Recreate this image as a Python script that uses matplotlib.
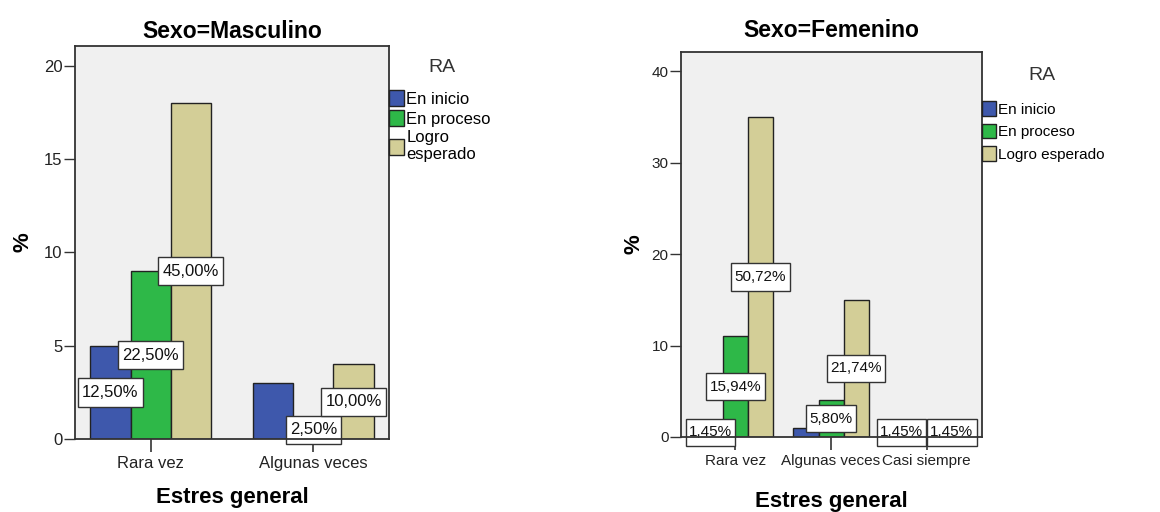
import matplotlib
matplotlib.use("Agg")
import matplotlib.pyplot as plt
from matplotlib.patches import Patch
import numpy as np

plt.rcParams['font.family'] = ['Liberation Sans', 'DejaVu Sans']

# ---- data ----
series_names = ["En inicio", "En proceso", "Logro esperado"]
colors = ["#3E58AC", "#2EB848", "#D3CE97"]

masc_categories = ["Rara vez", "Algunas veces"]
masc_en_inicio = [5, 3]
masc_en_proceso = [9, 1]
masc_logro = [18, 4]
masc_lbl_inicio = ["12,50%", None]
masc_lbl_proceso = ["22,50%", "2,50%"]
masc_lbl_logro = ["45,00%", "10,00%"]

fem_categories = ["Rara vez", "Algunas veces", "Casi siempre"]
fem_en_inicio = [1, 1, 1]
fem_en_proceso = [11, 4, 0]
fem_logro = [35, 15, 1]
fem_lbl_inicio = ["1,45%", None, "1,45%"]
fem_lbl_proceso = ["15,94%", "5,80%", None]
fem_lbl_logro = ["50,72%", "21,74%", "1,45%"]

masc_yticks = [0, 5, 10, 15, 20]
fem_yticks = [0, 10, 20, 30, 40]

fig = plt.figure(figsize=(11.6, 5.12), dpi=100)
W, H = 1160, 512

def px_axes(x0, y0, x1, y1):
    return fig.add_axes([x0 / W, 1 - y1 / H, (x1 - x0) / W, (y1 - y0) / H])

def draw(ax, cats, series, labels, ylim, xlim, yticks, title, fs, legend_labels, leg_y,
         leg_spacing, title_x, ra_y, title_pad, ylpad, xlpad, bw, box_pad, box_aspect):
    ax.set_facecolor("#F0F0F0")
    x = np.arange(len(cats))
    for i, (vals, lbls) in enumerate(zip(series, labels)):
        xs = x + (i - 1) * bw
        ax.bar(xs, vals, width=bw, color=colors[i], edgecolor="#222222", linewidth=1.0, zorder=2)
        for xi, v, lb in zip(xs, vals, lbls):
            if lb is None:
                continue
            ax.text(xi, v / 2, lb, ha="center", va="center", fontsize=fs, color="#111111",
                    zorder=2.3,
                    bbox=dict(boxstyle="square,pad=%g" % box_pad, facecolor="white",
                              edgecolor="#333333", linewidth=1.0, mutation_aspect=box_aspect))
    ax.set_xlim(*xlim)
    ax.set_ylim(*ylim)
    ax.set_yticks(yticks)
    ax.set_xticks(x)
    ax.set_xticklabels(cats)
    ax.tick_params(axis="y", direction="out", length=8, width=1, colors="#333333", labelsize=fs, pad=1)
    ax.tick_params(axis="x", direction="out", length=9, width=1.2, colors="#333333", labelsize=fs, pad=3)
    for lab in ax.get_xticklabels() + ax.get_yticklabels():
        lab.set_color("#222222")
    for s in ax.spines.values():
        s.set_color("#333333")
        s.set_linewidth(1.3)
    ax.set_title(title, fontsize=16.5, fontweight="bold", pad=title_pad)
    ax.set_ylabel("%", fontsize=16, fontweight="bold", labelpad=ylpad)
    ax.set_xlabel("Estres general", fontsize=16, fontweight="bold", labelpad=xlpad)
    handles = [Patch(facecolor=c, edgecolor="#222222", linewidth=1.0) for c in colors]
    ax.legend(handles, legend_labels, loc="upper left", bbox_to_anchor=(1.0, leg_y), frameon=False,
              fontsize=fs, handlelength=0.9, handleheight=1.1, handletextpad=0.15,
              labelspacing=leg_spacing, borderpad=0, borderaxespad=0)
    ax.text(title_x, ra_y, "RA", transform=ax.transAxes, fontsize=14, color="#333333",
            ha="center", va="center")

ax1 = px_axes(75, 46, 389, 439)
draw(ax1, masc_categories, [masc_en_inicio, masc_en_proceso, masc_logro],
     [masc_lbl_inicio, masc_lbl_proceso, masc_lbl_logro],
     (0, 21.07), (-0.465, 1.465), masc_yticks, "Sexo=Masculino", 12,
     ["En inicio", "En proceso", "Logro\nesperado"], 0.888, 0.2, 1.17, 0.945,
     6, 7.5, 12, 0.247, 0.25, 1.6)

ax2 = px_axes(681, 52, 982, 437)
draw(ax2, fem_categories, [fem_en_inicio, fem_en_proceso, fem_logro],
     [fem_lbl_inicio, fem_lbl_proceso, fem_lbl_logro],
     (0, 42.1), (-0.57, 2.58), fem_yticks, "Sexo=Femenino", 11,
     series_names, 0.872, 0.45, 1.2, 0.94,
     11, 5, 17, 0.262, 0.22, 2.0)

fig.savefig("out.png", dpi=100)
